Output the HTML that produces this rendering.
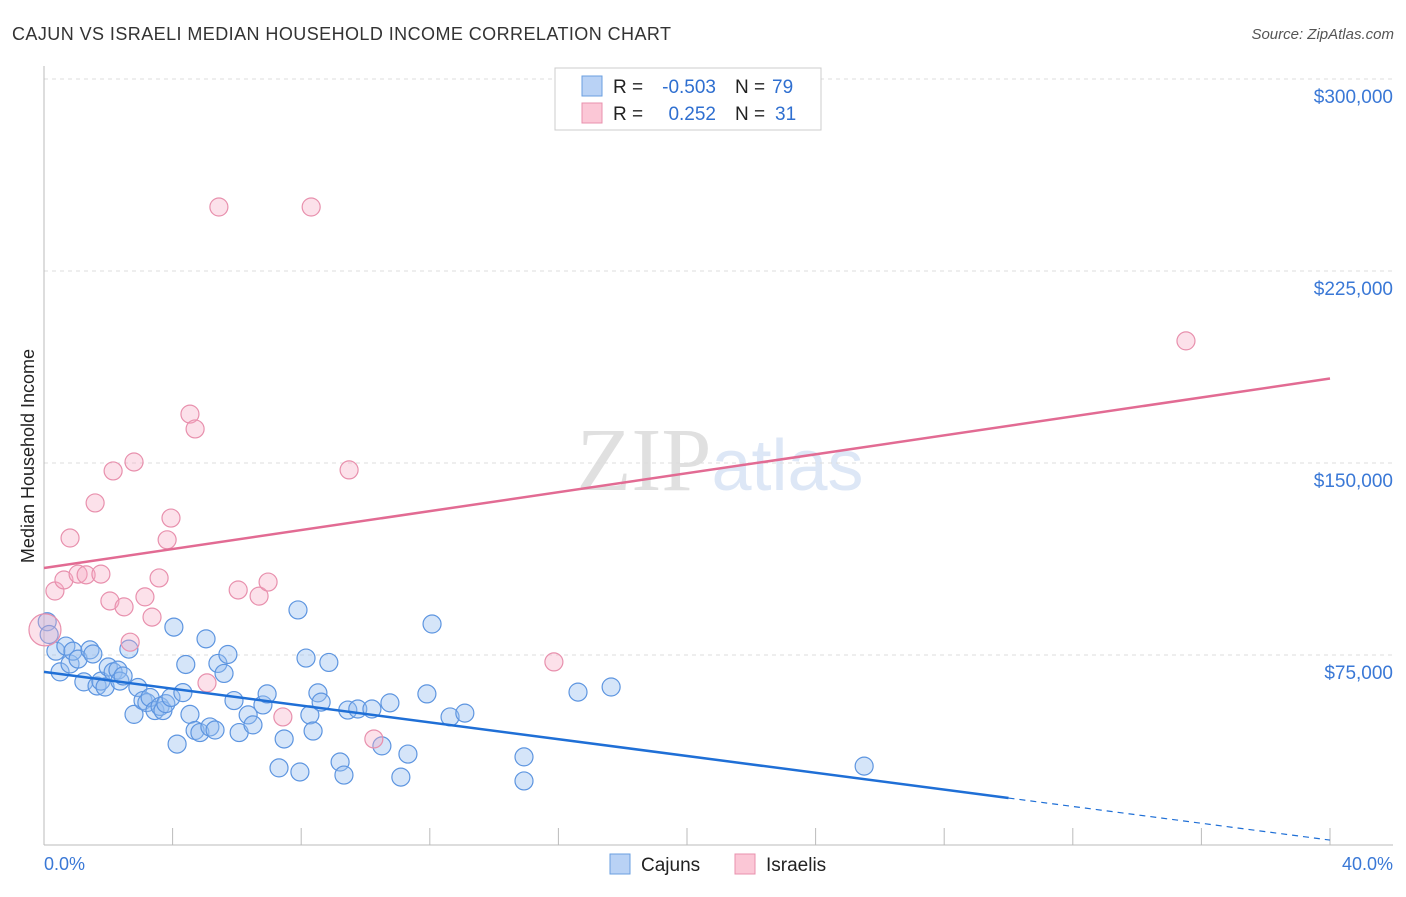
<!DOCTYPE html>
<html><head><meta charset="utf-8"><style>
body{margin:0;background:#fff;font-family:"Liberation Sans",sans-serif}
svg text{font-family:"Liberation Sans",sans-serif}
</style></head><body>
<svg id="chart" width="1406" height="892">
<text x="12" y="40" font-size="18" fill="#333" textLength="659" lengthAdjust="spacing">CAJUN VS ISRAELI MEDIAN HOUSEHOLD INCOME CORRELATION CHART</text>
<text x="1394" y="39" font-size="15" fill="#555" text-anchor="end" font-style="italic">Source: ZipAtlas.com</text>
<text x="720" y="490" font-size="90" fill="#e4e4e4" text-anchor="middle" font-family="Liberation Serif"><tspan fill="#e0e0e0" font-family="Liberation Serif">ZIP</tspan><tspan fill="#dde7f6" font-family="Liberation Sans" font-size="72">atlas</tspan></text>
<g id="grid"></g><g id="axes"></g><g id="marks"></g>
<text x="34" y="456" font-size="18" fill="#222" text-anchor="middle" transform="rotate(-90 34 456)">Median Household Income</text>
<text x="44" y="870" font-size="18" fill="#3a78d6">0.0%</text>
<text x="1393" y="870" font-size="18" fill="#3a78d6" text-anchor="end">40.0%</text>
<g>
<rect x="555" y="68" width="266" height="62" fill="#fff" stroke="#ccc"/>
<rect x="582" y="76" width="20" height="20" fill="#b9d2f5" stroke="#6a9fe0"/>
<rect x="582" y="103" width="20" height="20" fill="#fbc7d6" stroke="#e890ad"/>
<text x="613" y="93" font-size="19" fill="#222">R =</text>
<text x="716" y="93" font-size="19" fill="#2f6fd0" text-anchor="end">-0.503</text>
<text x="735" y="93" font-size="19" fill="#222">N =</text>
<text x="772" y="93" font-size="19" fill="#2f6fd0">79</text>
<text x="613" y="120" font-size="19" fill="#222">R =</text>
<text x="716" y="120" font-size="19" fill="#2f6fd0" text-anchor="end">0.252</text>
<text x="735" y="120" font-size="19" fill="#222">N =</text>
<text x="775" y="120" font-size="19" fill="#2f6fd0">31</text>
</g>
<g>
<rect x="610" y="854" width="20" height="20" fill="#b9d2f5" stroke="#6a9fe0"/>
<text x="641" y="871" font-size="19" fill="#222">Cajuns</text>
<rect x="735" y="854" width="20" height="20" fill="#fbc7d6" stroke="#e890ad"/>
<text x="766" y="871" font-size="19" fill="#222">Israelis</text>
</g>
</svg>
<script>
const yTicks=[75000,150000,225000,300000];
const yTickLabels=["$75,000","$150,000","$225,000","$300,000"];
const xTicks=[0,4,8,12,16,20,24,28,32,36,40];
const cajunX=[0.1,0.16,0.37,0.5,0.68,0.81,0.9,1.06,1.24,1.43,1.52,1.65,1.77,1.9,2.0,2.15,2.3,2.36,2.46,2.64,2.8,2.92,3.08,3.2,3.3,3.45,3.61,3.7,3.79,3.95,4.04,4.14,4.32,4.41,4.54,4.7,4.85,5.04,5.16,5.32,5.41,5.6,5.72,5.91,6.07,6.35,6.5,6.81,6.94,7.31,7.47,7.9,7.96,8.15,8.27,8.37,8.52,8.62,8.86,9.21,9.33,9.45,9.76,10.2,10.51,10.76,11.1,11.32,11.91,12.07,12.63,13.09,14.93,14.93,16.61,17.64,25.51];
const cajunY=[88,83,76.5,68.4,78.5,71.5,76.5,73.4,64.5,77,75.4,62.9,64.8,62.5,70.3,68.4,69.1,64.8,66.8,77.3,51.8,62.3,57.2,56.4,58.4,53.3,54.9,53.3,56,58.4,85.9,40.2,60.3,71.3,51.8,45.5,44.7,81.3,46.9,45.7,71.7,67.8,75.2,57.2,44.7,51.6,47.7,55.5,59.8,30.9,42.2,92.6,29.3,73.8,51.6,45.3,60.2,56.6,72.1,33.2,28.1,53.5,53.9,53.9,39.5,56.3,27.3,36.3,59.8,87.1,50.8,52.3,35.2,25.8,60.5,62.5,31.6];
const israeliX=[0.03,0.34,0.62,0.81,1.06,1.31,1.59,1.77,2.05,2.15,2.49,2.68,2.8,3.14,3.36,3.58,3.83,3.95,4.54,4.7,5.07,5.44,6.04,6.69,6.97,7.43,8.31,9.49,10.26,15.86,35.52];
const israeliY=[84.8,100,104.3,120.7,106.6,106.3,134.4,106.6,96.1,146.9,93.8,80,150.4,97.7,89.8,105.1,120,128.5,169.1,163.3,64.1,250,100.4,98,103.5,50.8,250,147.3,42.2,72.3,197.7];
const blueLine=[68.4,2.7];const pinkLine=[109,183];

const NS="http://www.w3.org/2000/svg";
const X0=44,X1=1330,Y0=847;
function xs(p){return X0+(X1-X0)*p/40;}
function ys(k){return Y0-k*2.56;}
function mk(tag,attrs,parent){const e=document.createElementNS(NS,tag);for(const a in attrs)e.setAttribute(a,attrs[a]);parent.appendChild(e);return e;}
const grid=document.getElementById('grid'),axes=document.getElementById('axes'),marks=document.getElementById('marks');
yTicks.forEach((v,i)=>{const y=ys(v/1000);
const l=mk('line',{x1:44,x2:1393,y1:y,y2:y,stroke:'#ddd','stroke-dasharray':'4,4'},grid);


const t=mk('text',{x:1393,y:y+24,'font-size':19,fill:'#3a78d6','text-anchor':'end'},grid);t.textContent=yTickLabels[i];

});
const ax=mk('line',{x1:44,x2:1393,y1:845,y2:845,stroke:'#bbb'},axes);


const ay=mk('line',{x1:44,x2:44,y1:66,y2:845,stroke:'#bbb'},axes);


xTicks.forEach(p=>{const t=mk('line',{x1:xs(p),x2:xs(p),y1:828,y2:845,stroke:'#bbb'},axes);

});
cajunX.forEach((p,i)=>{const c=mk('circle',{cx:xs(p),cy:ys(cajunY[i]),r:9,fill:'rgba(150,190,240,0.4)',stroke:'#5d95e0','stroke-width':1.2},marks);

});
israeliX.forEach((p,i)=>{const c=mk('circle',{cx:xs(p),cy:ys(israeliY[i]),r:i==0?16:9,fill:'rgba(245,170,195,0.35)',stroke:'#e890ad','stroke-width':1.2},marks);

});
function lv(a,p){return a[0]+(a[1]-a[0])*p/40;}
const b1=mk('line',{x1:xs(0),y1:ys(lv(blueLine,0)),x2:xs(30),y2:ys(lv(blueLine,30)),stroke:'#1f6fd6','stroke-width':2.5},marks);


const b2=mk('line',{x1:xs(30),y1:ys(lv(blueLine,30)),x2:xs(40),y2:ys(lv(blueLine,40)),stroke:'#1f6fd6','stroke-width':1.2,'stroke-dasharray':'6,5'},marks);


const p1=mk('line',{x1:xs(0),y1:ys(pinkLine[0]),x2:xs(40),y2:ys(pinkLine[1]),stroke:'#e26b93','stroke-width':2.5},marks);


</script>
</body></html>
